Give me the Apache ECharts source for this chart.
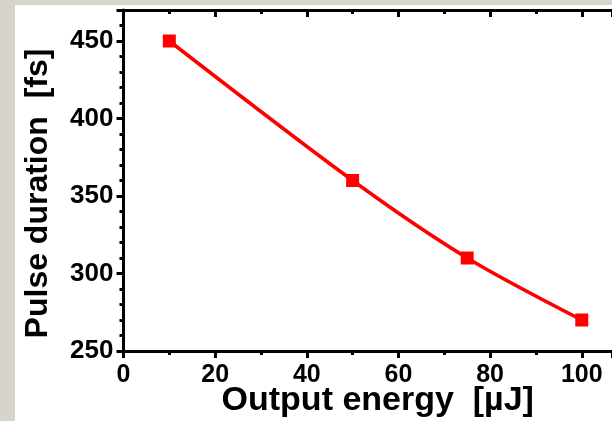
<!DOCTYPE html>
<html><head><meta charset="utf-8">
<script src="https://cdn.jsdelivr.net/npm/echarts@6/dist/echarts.min.js"></script>
<style>html,body{margin:0;padding:0;background:#d9d3ce;}#c{width:612px;height:421px;}</style>
</head><body><div id="c"></div>
<script>
var energy = [10, 50, 75, 100];
var duration = [450, 360, 310, 270];
var xTitle = 'Output energy  [\u00b5J]';
var yTitle = 'Pulse duration  [fs]';

var chart = echarts.init(document.getElementById('c'), null, {renderer: 'canvas'});
var F = '"Liberation Sans", Arial, sans-serif';
var data = energy.map(function (e, i) { return [e, duration[i]]; });
chart.setOption({
  backgroundColor: '#d9d3ce',
  animation: false,
  graphic: [{type: 'rect', z: -10, shape: {x: 15, y: 5, width: 597, height: 416}, style: {fill: '#fff'}}],
  grid: {left: 123.5, right: 0, top: 10, bottom: 70, containLabel: false, outerBoundsMode: 'none'},
  xAxis: [{
    type: 'value', min: 0, max: 106.6, interval: 20, position: 'bottom',
    name: xTitle, nameLocation: 'middle', nameGap: 33, nameMoveOverlap: false,
    nameTextStyle: {fontFamily: F, fontWeight: 'bold', fontSize: 34, color: '#000', padding: [0, 0, 0, 20]},
    axisLine: {lineStyle: {color: '#000', width: 3}},
    axisTick: {inside: false, length: 7, lineStyle: {width: 3, color: '#000'}},
    minorTick: {show: true, splitNumber: 2, length: 4, lineStyle: {width: 3, color: '#000'}},
    axisLabel: {fontFamily: F, fontWeight: 'bold', fontSize: 25, color: '#000', margin: 12,
      formatter: function (v) { return v > 100 ? '' : v; }},
    splitLine: {show: false}
  }, {
    type: 'value', min: 0, max: 106.6, interval: 20, position: 'top',
    axisLine: {lineStyle: {color: '#000', width: 3}},
    axisTick: {inside: true, length: 7, lineStyle: {width: 3, color: '#000'}},
    minorTick: {show: true, splitNumber: 2, length: 4, lineStyle: {width: 3, color: '#000'}},
    axisLabel: {show: false}, splitLine: {show: false}
  }],
  yAxis: [{
    type: 'value', min: 250, max: 470, interval: 50,
    name: yTitle, nameLocation: 'middle', nameGap: 69, nameRotate: 90, nameMoveOverlap: false,
    nameTextStyle: {fontFamily: F, fontWeight: 'bold', fontSize: 32, color: '#000', padding: [0, 26, 0, 0]},
    axisLine: {show: true, lineStyle: {color: '#000', width: 3}},
    axisTick: {inside: false, length: 7, lineStyle: {width: 3, color: '#000'}},
    minorTick: {show: true, splitNumber: 5, length: 4, lineStyle: {width: 3, color: '#000'}},
    axisLabel: {fontFamily: F, fontWeight: 'bold', fontSize: 26, color: '#000', margin: 10,
      formatter: function (v) { return v > 450 ? '' : v; }},
    splitLine: {show: false}
  }],
  series: [{
    type: 'line', data: data, smooth: 0.3,
    symbol: 'rect', symbolSize: 13,
    lineStyle: {color: '#ff0000', width: 3.5},
    itemStyle: {color: '#ff0000'}
  }]
});
</script></body></html>
